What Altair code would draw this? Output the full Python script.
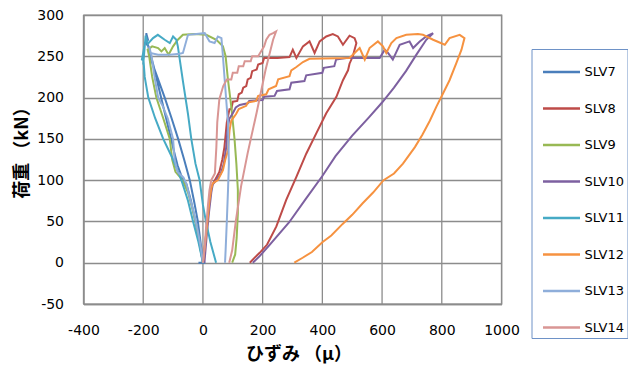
import altair as alt
import pandas as pd

# ---- data (strain in micro, load in kN) ----
names = ["SLV7", "SLV8", "SLV9", "SLV10", "SLV11", "SLV12", "SLV13", "SLV14"]
colors = ["#4A7EBB", "#BE4B48", "#98B954", "#7D60A0", "#46AAC5", "#F69240", "#8FAEDA", "#D99694"]

x_slv7 = [0, -12, -25, -40, -55, -70, -85, -97, -110, -128, -148, -165, -180, -188, -190, -184, -192, -182,
          -178, -153, -128, -105, -83, -63, -44, -30, -17, -8, 0, -15, 8]
y_slv7 = [0, 25, 50, 75, 95, 103, 118, 135, 155, 182, 212, 238, 258, 268, 278, 270, 266, 262,
          250, 225, 200, 175, 150, 125, 100, 75, 50, 25, 0, 0, 0]

x_slv8 = [0, 8, 15, 22, 28, 40, 55, 65, 72, 76, 80, 89, 95, 100, 115, 120, 130, 135, 145, 150, 160, 165,
          180, 185, 200, 205, 250, 290, 301, 313, 335, 357, 374, 391, 413, 435, 452, 469, 491, 508, 514,
          502, 491, 486, 469, 447, 413, 380, 346, 313, 279, 246, 215, 190, 170, 157]
y_slv8 = [0, 25, 50, 75, 92, 100, 110, 125, 140, 155, 170, 186, 186, 195, 196, 204, 206, 212, 214, 222, 224, 232,
          234, 240, 242, 248, 248, 249, 258, 248, 262, 268, 254, 268, 274, 277, 274, 264, 275, 272, 266,
          250, 241, 233, 221, 201, 181, 157, 132, 104, 76, 44, 22, 12, 5, 0]

x_slv9 = [0, -10, -22, -35, -50, -62, -75, -92, -103, -111, -133, -156, -170, -180, -185, -170, -150, -139,
          -128, -115, -100, -84, -67, -28, 11, 45, 67, 76, 84, 95, 106, 112, 117, 117, 113, 108, 98]
y_slv9 = [0, 20, 45, 65, 85, 95, 103, 110, 125, 150, 175, 200, 225, 250, 258, 262, 260, 256,
          260, 252, 262, 270, 276, 277, 276, 270, 262, 250, 221, 189, 149, 120, 88, 60, 30, 10, 0]

x_slv10 = [5, 12, 20, 28, 33, 45, 60, 70, 78, 82, 88, 100, 110, 123, 150, 155, 200, 205, 240, 248, 290, 296,
           340, 346, 400, 405, 440, 446, 480, 592, 609, 620, 636, 659, 692, 704, 726, 748, 771,
           748, 715, 680, 640, 600, 556, 500, 444, 400, 344, 289, 222, 190, 167]
y_slv10 = [0, 30, 60, 85, 95, 100, 108, 120, 140, 160, 174, 181, 188, 191, 193, 196, 197, 201, 202, 208, 210, 218,
           220, 227, 230, 236, 238, 246, 248, 248, 258, 254, 246, 264, 268, 260, 268, 274, 278,
           270, 252, 232, 212, 194, 176, 154, 129, 105, 77, 49, 21, 8, 0]

x_slv11 = [0, -15, -33, -50, -72, -100, -133, -160, -183, -195, -200, -205, -196, -200, -192, -185, -167, -151,
           -128, -111, -100, -89, -84, -67, -50, -39, -25, -11, 0, 10, 25, 44]
y_slv11 = [0, 25, 50, 75, 100, 125, 150, 175, 200, 225, 250, 245, 262, 240, 275, 265, 272, 276,
           270, 266, 274, 270, 262, 220, 180, 150, 120, 100, 70, 50, 25, 0]

x_slv12 = [0, 8, 15, 22, 28, 33, 50, 67, 75, 84, 89, 95, 111, 120, 145, 150, 178, 185, 212, 220, 245, 252,
           290, 296, 313, 335, 357, 491, 514, 525, 542, 558, 586, 603, 614, 631, 648, 681, 720, 737, 771,
           810, 826, 860, 876, 866, 849, 826, 804, 782, 760, 735, 710, 670, 640, 605, 570, 535, 500, 468,
           430, 401, 365, 334, 306]
y_slv12 = [0, 25, 50, 75, 90, 96, 100, 112, 125, 136, 160, 172, 180, 186, 190, 194, 196, 202, 204, 210, 214, 222,
           226, 233, 237, 243, 247, 248, 256, 260, 246, 260, 268, 262, 254, 266, 272, 276, 277, 276, 270,
           264, 272, 276, 272, 258, 242, 221, 205, 189, 172, 155, 140, 120, 108, 100, 85, 72, 58, 47,
           33, 25, 13, 6, 0]

x_slv13 = [0, -8, -18, -30, -45, -55, -65, -85, -95, -100, -118, -135, -150, -162, -172, -180, -176, -150, -110,
           -78, -67, -50, 6, 22, 39, 50, 62, 67, 73, 78, 84, 87, 84, 80, 76, 74]
y_slv13 = [0, 20, 40, 60, 80, 95, 103, 110, 125, 150, 175, 190, 200, 225, 250, 262, 254, 252, 252,
           253, 254, 276, 278, 268, 266, 274, 272, 250, 221, 197, 169, 120, 88, 50, 15, 0]

x_slv14 = [0, 6, 11, 17, 22, 28, 40, 45, 48, 55, 68, 80, 95, 100, 115, 120, 135, 140, 160, 165, 185, 195, 205,
           212, 223, 235, 245, 235, 210, 180, 150, 128, 110, 98, 88]
y_slv14 = [0, 20, 45, 70, 88, 100, 108, 140, 170, 198, 214, 222, 222, 230, 230, 238, 238, 244, 244, 250, 250, 256, 262,
           270, 276, 278, 280, 270, 234, 182, 133, 93, 50, 15, 0]

xs = [x_slv7, x_slv8, x_slv9, x_slv10, x_slv11, x_slv12, x_slv13, x_slv14]
ys = [y_slv7, y_slv8, y_slv9, y_slv10, y_slv11, y_slv12, y_slv13, y_slv14]

x_ticks = [-400, -200, 0, 200, 400, 600, 800, 1000]
y_ticks = [-50, 0, 50, 100, 150, 200, 250, 300]

rows = []
for name, xv, yv in zip(names, xs, ys):
    for i, (a, b) in enumerate(zip(xv, yv)):
        rows.append({"series": name, "i": i, "strain": a, "load": b})
df = pd.DataFrame(rows)
df_grid = pd.DataFrame({"strain": x_ticks})

grid_col = "#8C8C8C"
tick_font = "DejaVu Sans"
title_font = "Noto Sans CJK JP"
hyphen_label = "datum.value < 0 ? '-' + abs(datum.value) : '' + datum.value"

x_scale = alt.Scale(domain=[-400, 1000], nice=False, zero=False)
y_scale = alt.Scale(domain=[-50, 300], nice=False, zero=False)

vgrid = alt.Chart(df_grid).mark_rule(color=grid_col, strokeWidth=1.3).encode(
    x=alt.X("strain:Q", scale=x_scale)
)

lines = alt.Chart(df).mark_line(strokeWidth=2).encode(
    x=alt.X("strain:Q", scale=x_scale,
            axis=alt.Axis(values=x_ticks, labelExpr=hyphen_label, title="ひずみ （μ）", labelPadding=19,
                          ticks=False, grid=False, labelFlush=False, labelOverlap=False,
                          titleX=215, titleY=50, titleBaseline="middle", titleAlign="center")),
    y=alt.Y("load:Q", scale=y_scale,
            axis=alt.Axis(values=y_ticks, labelExpr=hyphen_label, title="荷重 （kN）", labelPadding=20,
                          ticks=False, grid=True, labelFlush=False, labelOverlap=False,
                          titleX=-61.5, titleY=133, titleBaseline="middle", titleAlign="center", titleAngle=270)),
    color=alt.Color("series:N",
                    scale=alt.Scale(domain=names, range=colors),
                    sort=names,
                    title=None,
                    legend=alt.Legend(orient="none", legendX=448, legendY=34,
                                      symbolType="stroke", symbolSize=1369, symbolStrokeWidth=2.5,
                                      symbolOffset=7, labelOffset=3, rowPadding=9.5, padding=3,
                                      labelFont=tick_font, labelFontSize=13, labelColor="black",
                                      strokeColor="#6E92C7", fillColor="white")),
    order=alt.Order("i:Q"),
)

chart = alt.layer(vgrid, lines).properties(
    width=418, height=289,
    background="white",
    autosize=alt.AutoSizeParams(type="none"),
    padding={"left": 75.5, "top": 7, "right": 126, "bottom": 60},
).configure_view(
    stroke=grid_col, strokeWidth=1.3
).configure_axis(
    gridColor=grid_col, gridWidth=1.3, gridOpacity=1,
    domainColor=grid_col, domainWidth=1.3,
    labelFont=tick_font, labelFontSize=14, labelColor="black",
    titleFont=title_font, titleFontSize=18, titleFontWeight="bold", titleColor="black",
)

chart.save("out.html", embed_options={"renderer": "svg", "actions": False})
